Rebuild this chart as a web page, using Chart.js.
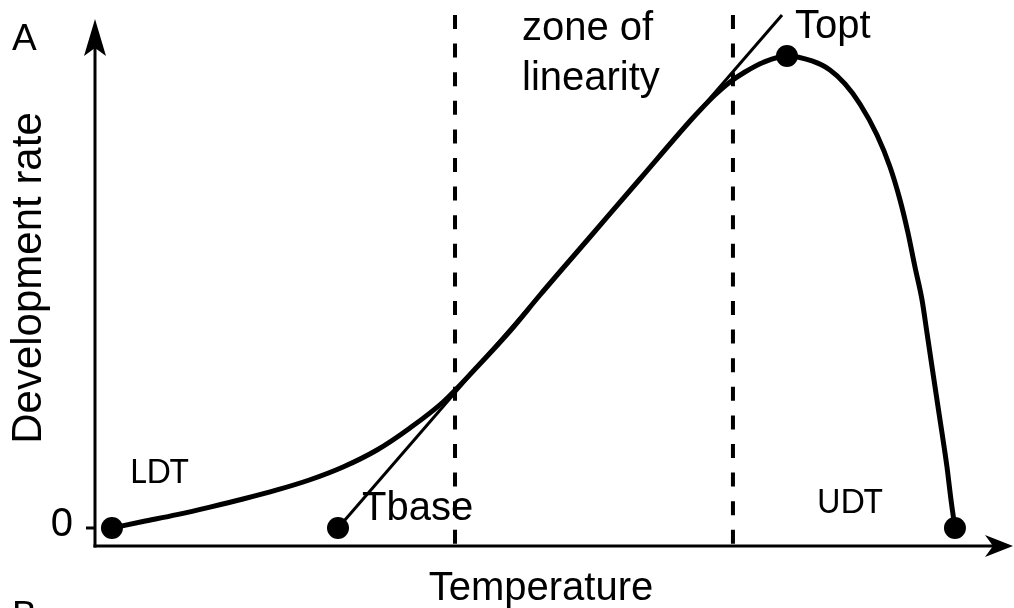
<!DOCTYPE html>
<html>
<head>
<meta charset="utf-8">
<title>Development rate vs temperature</title>
<script src="https://cdn.jsdelivr.net/npm/chart.js@4/dist/chart.umd.min.js"></script>
<style>
  html, body { margin: 0; padding: 0; background: #fff; }
  #wrap { position: relative; width: 1014px; height: 608px; }
</style>
</head>
<body>
<div id="wrap"><canvas id="rate-chart"></canvas></div>
<script>
// Development rate curve (temperature vs rate, arbitrary units)
const curveTemp = [1.85, 5.23, 8.94, 12.54, 16.14, 19.85, 23.45, 27.05, 30.75, 34.35, 37.96, 41.66, 45.26, 48.53, 53.98, 59.43, 64.89, 66.0, 67.61, 69.25, 70.88, 72.85, 75.46, 78.19, 80.15, 81.79, 83.42, 85.28, 86.70, 87.79, 88.66, 89.42, 90.19, 90.73, 91.28, 91.82, 92.37, 92.91, 93.35, 93.78];
const curveRate = [0, 1.2, 2.5, 3.9, 5.4, 7.1, 9.0, 11.38, 14.55, 18.66, 23.51, 30.04, 36.75, 43.47, 54.29, 65.11, 75.93, 77.99, 80.78, 83.21, 85.07, 86.85, 88.06, 87.13, 85.45, 82.84, 79.10, 73.32, 67.35, 61.19, 55.04, 48.69, 42.54, 36.38, 30.04, 23.88, 17.72, 11.38, 5.22, 0];

// Linear approximation starting at Tbase
const tangentTemp = [26.5, 74.92];
const tangentRate = [0, 95.71];

// Zone of linearity boundaries
const zoneTemp = [39.26, 69.57];
const zoneTop = 95.71;

// Marked thresholds
const markLabels = ['LDT', 'Tbase', 'Topt', 'UDT'];
const markTemp = [1.85, 26.5, 75.46, 93.78];
const markRate = [0, 0, 88.06, 0];

// Axis range
const xMin = 0, xMax = 100;
const yMin = -3.36, yMax = 96.64;
const yTicks = [0];

function pairs(xs, ys) {
  return xs.map((x, i) => ({ x: x, y: ys[i] }));
}

// Draws the arrowed axes, the zero tick and all the text labels
const axesAndText = {
  id: 'axesAndText',
  afterDatasetsDraw(chart) {
    const ctx = chart.ctx;
    const xs = chart.scales.x;
    const ys = chart.scales.y;
    const x0 = xs.left;
    const y0 = ys.bottom;
    ctx.save();
    ctx.strokeStyle = '#000';
    ctx.fillStyle = '#000';
    ctx.lineWidth = 3;

    // y axis with arrow
    ctx.beginPath();
    ctx.moveTo(x0, y0 + 1.5);
    ctx.lineTo(x0, 40);
    ctx.stroke();
    ctx.beginPath();
    ctx.moveTo(x0, 19);
    ctx.lineTo(x0 + 11, 56);
    ctx.lineTo(x0, 48);
    ctx.lineTo(x0 - 11, 56);
    ctx.closePath();
    ctx.fill();

    // x axis with arrow
    ctx.beginPath();
    ctx.moveTo(x0 - 1.5, y0);
    ctx.lineTo(1000, y0);
    ctx.stroke();
    ctx.beginPath();
    ctx.moveTo(1013, y0);
    ctx.lineTo(985, y0 - 11);
    ctx.lineTo(993, y0);
    ctx.lineTo(985, y0 + 11);
    ctx.closePath();
    ctx.fill();

    // y ticks
    ctx.font = '40px "Liberation Sans", Arial, sans-serif';
    ctx.textAlign = 'right';
    ctx.textBaseline = 'alphabetic';
    yTicks.forEach(v => {
      const py = ys.getPixelForValue(v);
      ctx.beginPath();
      ctx.moveTo(x0 - 9, py);
      ctx.lineTo(x0, py);
      ctx.stroke();
      ctx.fillText(String(v), x0 - 22, py + 8);
    });

    // axis titles
    ctx.textAlign = 'center';
    ctx.fillText('Temperature', 541, 600);
    ctx.save();
    ctx.translate(41, 278);
    ctx.rotate(-Math.PI / 2);
    ctx.font = '42px "Liberation Sans", Arial, sans-serif';
    ctx.fillText('Development rate', 0, 0);
    ctx.restore();

    // panel letters
    ctx.textAlign = 'left';
    ctx.font = '37px "Liberation Sans", Arial, sans-serif';
    ctx.fillText('A', 12, 50);
    ctx.fillText('B', 12, 627);

    // annotations
    ctx.font = '40px "Liberation Sans", Arial, sans-serif';
    ctx.fillText('zone of', 522, 40);
    ctx.fillText('linearity', 522, 90);
    ctx.fillText('Topt', 795, 38);
    ctx.fillText('Tbase', 362, 520);

    ctx.font = '32px Lato, "Open Sans", sans-serif';
    ctx.fillText('LDT', 130, 483);
    ctx.fillText('UDT', 817, 513);
    ctx.restore();
  }
};

const zoneSets = zoneTemp.map(t => ({
  type: 'line',
  data: [{ x: t, y: zoneTop }, { x: t, y: yMin }],
  borderColor: '#000',
  borderWidth: 4,
  borderDash: [14, 14.6],
  pointRadius: 0,
  tension: 0,
  fill: false
}));

new Chart(document.getElementById('rate-chart'), {
  type: 'line',
  data: {
    datasets: [
      {
        type: 'scatter',
        label: 'thresholds',
        data: pairs(markTemp, markRate),
        pointRadius: 11,
        pointBackgroundColor: '#000',
        pointBorderColor: '#000',
        pointBorderWidth: 0,
        showLine: false
      },
      {
        label: 'development rate',
        data: pairs(curveTemp, curveRate),
        borderColor: '#000',
        borderWidth: 5,
        cubicInterpolationMode: 'monotone',
        pointRadius: 0,
        fill: false
      },
      {
        label: 'linear fit',
        data: pairs(tangentTemp, tangentRate),
        borderColor: '#000',
        borderWidth: 3,
        pointRadius: 0,
        tension: 0,
        fill: false
      },
      ...zoneSets
    ]
  },
  options: {
    responsive: true,
    maintainAspectRatio: false,
    animation: false,
    layout: { autoPadding: false, padding: { left: 95, right: 2, top: 10, bottom: 62 } },
    plugins: { legend: { display: false }, tooltip: { enabled: false } },
    scales: {
      x: { type: 'linear', min: xMin, max: xMax, display: false },
      y: { type: 'linear', min: yMin, max: yMax, display: false }
    }
  },
  plugins: [axesAndText]
});
</script>
</body>
</html>
